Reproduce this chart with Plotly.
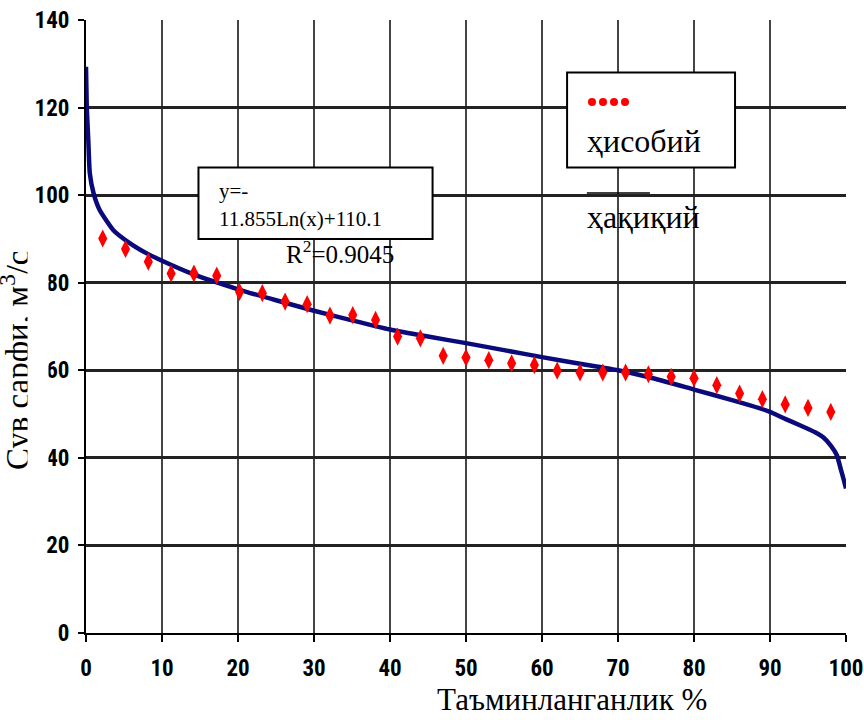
import plotly.graph_objects as go

# ---- data ----
actual_x = [0, 0.1, 0.3, 0.5, 1, 1.8, 3.6, 5.8, 8, 10, 14, 20, 25, 30, 35, 40, 45, 50,
            55, 60, 65, 70, 75, 80, 85, 88.7, 90, 92, 94, 96, 97, 98, 98.8, 99.3, 99.7, 100]
actual_y = [129.3, 120, 112.6, 105, 100.4, 96.6, 92, 89, 86.7, 85, 82, 78.5, 76, 73.6,
            71.4, 69.3, 67.7, 66.2, 64.6, 63.0, 61.5, 60.0, 58.0, 55.6, 53.2, 51.3, 50.5,
            48.9, 47.4, 45.8, 44.7, 42.8, 40.6, 37.5, 35.0, 33.0]

calc_x = [2.2, 5.2, 8.2, 11.2, 14.2, 17.2, 20.2, 23.2, 26.2, 29.1, 32.1, 35.1, 38.1, 41, 44,
          47, 50, 53, 56, 59, 62, 65, 68, 71, 74, 77, 80, 83, 86, 89, 92, 95, 98]
calc_y = [90.1, 87.7, 84.8, 82.1, 82.1, 81.6, 77.9, 77.6, 75.7, 75.1, 72.5, 72.6, 71.5, 67.7,
          67.3, 63.3, 62.9, 62.3, 61.6, 61.2, 59.9, 59.5, 59.5, 59.5, 59.1, 58.5, 58.2, 56.6,
          54.7, 53.4, 52.2, 51.4, 50.5]

x_ticks = [0, 10, 20, 30, 40, 50, 60, 70, 80, 90, 100]
y_ticks = [0, 20, 40, 60, 80, 100, 120, 140]

legend_calc = "ҳисобий"
legend_actual = "ҳақиқий"
eq_line1 = "y=-"
eq_line2 = "11.855Ln(x)+110.1"
eq_r2 = "R<sup>2</sup>=0.9045"
x_title = "Таъминланганлик %"
y_title = "Сув сарфи, м<sup>3</sup>/с"

SERIF = "Liberation Serif, Times New Roman, serif"
NARROW = ("Liberation Sans Narrow, Arial Narrow, Roboto Condensed, DejaVu Sans Condensed, "
          "Open Sans Condensed, Liberation Sans, sans-serif")

fig = go.Figure()
fig.add_trace(go.Scatter(x=actual_x, y=actual_y, mode="lines",
                         line=dict(color="#0a0a7a", width=4.5, shape="spline", smoothing=0.5),
                         showlegend=False, hoverinfo="skip"))
fig.add_trace(go.Scatter(x=calc_x, y=calc_y, mode="markers",
                         marker=dict(symbol="diamond-tall", size=13, color="#ff0000",
                                     line=dict(width=0)),
                         showlegend=False, hoverinfo="skip"))

L, R, T, B = 86, 18, 20, 87
W, H = 864, 720
pw, ph = W - L - R, H - T - B

def px2paper_x(px):
    return (px - L) / pw

def px2paper_y(py):
    return (H - B - py) / ph

shapes = [
    # equation box
    dict(type="rect", xref="x", yref="y", x0=14.8, x1=45.6, y0=90.0, y1=106.3,
         line=dict(color="black", width=2), fillcolor="white", layer="above"),
    # legend box
    dict(type="rect", xref="x", yref="y", x0=63.3, x1=85.4, y0=106.3, y1=128.0,
         line=dict(color="black", width=2), fillcolor="white", layer="above"),
    # legend line sample
    dict(type="line", xref="x", yref="y", x0=65.9, x1=74.2, y0=100.5, y1=100.5,
         line=dict(color="black", width=1.5), layer="above"),
]
# legend dot samples
for cx_px in [592, 603, 614, 625]:
    shapes.append(dict(type="circle", xref="paper", yref="paper",
                       x0=px2paper_x(cx_px - 4), x1=px2paper_x(cx_px + 4),
                       y0=px2paper_y(106), y1=px2paper_y(98),
                       fillcolor="#ff0000", line=dict(width=0), layer="above"))

annotations = [
    dict(text=eq_line1, xref="paper", yref="paper", x=px2paper_x(217), y=px2paper_y(191),
         xanchor="left", yanchor="middle", showarrow=False,
         font=dict(family=SERIF, size=21, color="black")),
    dict(text=eq_line2, xref="paper", yref="paper", x=px2paper_x(217), y=px2paper_y(219),
         xanchor="left", yanchor="middle", showarrow=False,
         font=dict(family=SERIF, size=21, color="black")),
    dict(text=eq_r2, xref="paper", yref="paper", x=px2paper_x(284), y=px2paper_y(252),
         xanchor="left", yanchor="middle", showarrow=False,
         font=dict(family=SERIF, size=25, color="black")),
    dict(text=legend_calc, xref="paper", yref="paper", x=px2paper_x(585), y=px2paper_y(141),
         xanchor="left", yanchor="middle", showarrow=False,
         font=dict(family=SERIF, size=32, color="black")),
    dict(text=legend_actual, xref="paper", yref="paper", x=px2paper_x(585), y=px2paper_y(217),
         xanchor="left", yanchor="middle", showarrow=False,
         font=dict(family=SERIF, size=32, color="black")),
    dict(text=x_title, xref="paper", yref="paper", x=px2paper_x(435), y=px2paper_y(699),
         xanchor="left", yanchor="middle", showarrow=False,
         font=dict(family=SERIF, size=31, color="black")),
    dict(text=y_title, xref="paper", yref="paper", x=px2paper_x(15), y=px2paper_y(360),
         xanchor="center", yanchor="middle", textangle=-90, showarrow=False,
         font=dict(family=SERIF, size=33, color="black")),
    # white cover that clips the y title like in the reference
    dict(text=" ", xref="paper", yref="paper", x=px2paper_x(38), y=px2paper_y(360),
         xanchor="center", yanchor="middle", showarrow=False, width=20, height=290,
         bgcolor="white", borderpad=0, font=dict(size=4)),
]

fig.update_layout(
    width=W, height=H,
    margin=dict(l=L, r=R, t=T, b=B, autoexpand=False),
    paper_bgcolor="white", plot_bgcolor="white",
    shapes=shapes, annotations=annotations,
    xaxis=dict(range=[0, 100], tickvals=x_ticks, ticktext=[str(v) for v in x_ticks],
               showgrid=True, gridcolor="#444444", gridwidth=1.5,
               showline=True, linecolor="black", linewidth=2,
               ticks="outside", ticklen=7, tickwidth=1.5, tickcolor="black",
               zeroline=False, ticklabelstandoff=6, ticklabeloverflow="allow",
               automargin=False,
               tickfont=dict(family=NARROW, size=23, color="black", weight="bold")),
    yaxis=dict(range=[0, 140], tickvals=y_ticks, ticktext=[str(v) for v in y_ticks],
               showgrid=True, gridcolor="#222222", gridwidth=2.5,
               showline=True, linecolor="black", linewidth=2,
               ticks="outside", ticklen=6, tickwidth=1.5, tickcolor="black",
               zeroline=False, ticklabelstandoff=4, automargin=False,
               tickfont=dict(family=NARROW, size=23, color="black", weight="bold")),
)

fig.write_html("out.html", config={"displayModeBar": False},
               post_script="document.body.style.margin='0';document.body.style.overflow='hidden';")
